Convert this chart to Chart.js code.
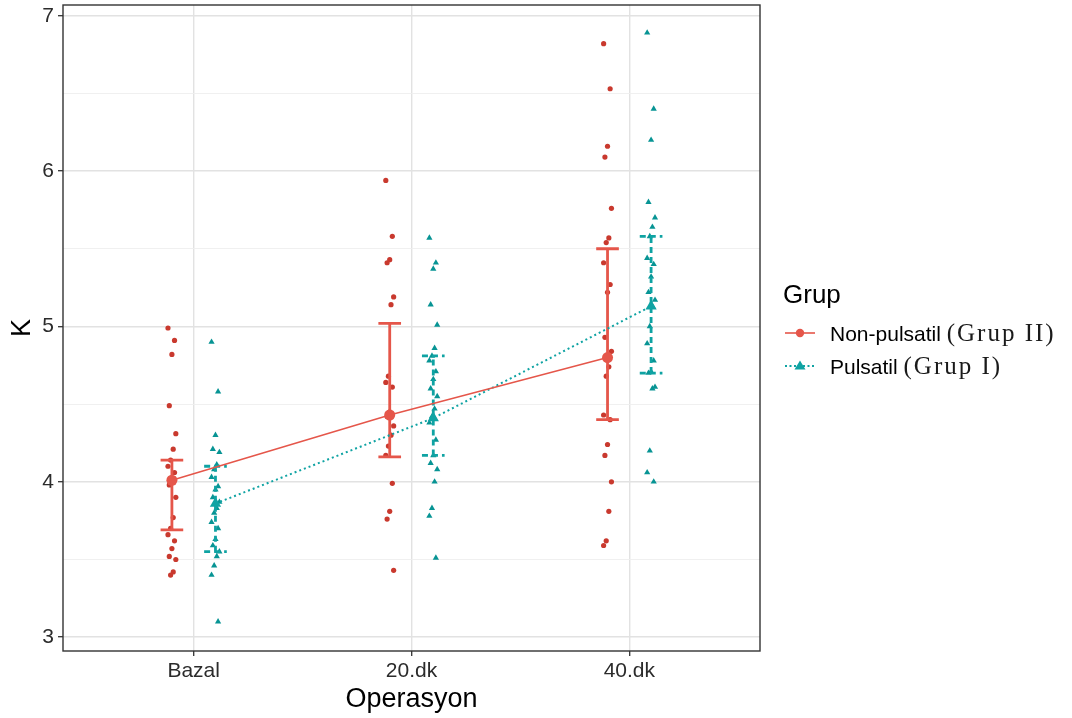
<!DOCTYPE html>
<html>
<head>
<meta charset="utf-8">
<script src="https://cdn.jsdelivr.net/npm/chart.js@4.4.1/dist/chart.umd.min.js"></script>
<style>
html,body{margin:0;padding:0;background:#fff;}
#wrap{position:relative;width:1072px;height:718px;overflow:hidden;}
#c{position:absolute;left:0;top:0;}
.lg{position:absolute;font-family:"Liberation Sans",Arial,sans-serif;color:#000;white-space:nowrap;line-height:1;}
.serif{font-family:"Liberation Serif","Times New Roman",serif;color:#1a1a1a;letter-spacing:2px;}
</style>
</head>
<body>
<div id="wrap">
<canvas id="c" width="1072" height="718"></canvas>
<div class="lg" style="left:783px;top:281px;font-size:26px;">Grup</div>
<svg class="lg" style="left:784px;top:324px;" width="32" height="18"><line x1="1" y1="9" x2="31" y2="9" stroke="#e5564a" stroke-width="1.6"/><circle cx="16" cy="9" r="4.2" fill="#e5564a"/></svg>
<div class="lg" style="left:830px;top:320px;font-size:21px;">Non-pulsatil <span class="serif" style="font-size:25px;">(Grup II)</span></div>
<svg class="lg" style="left:784px;top:357px;" width="32" height="18"><line x1="1" y1="9" x2="31" y2="9" stroke="#0fa3a3" stroke-width="1.8" stroke-dasharray="2,2.5"/><polygon points="16,3.5 21.5,12.5 10.5,12.5" fill="#0fa3a3"/></svg>
<div class="lg" style="left:830px;top:353px;font-size:21px;">Pulsatil <span class="serif" style="font-size:25px;">(Grup I)</span></div>
</div>
<script>
// ---- data ----
const categories = ['Bazal', '20.dk', '40.dk'];
const yTicks = [3, 4, 5, 6, 7];
const yMinorTicks = [3.5, 4.5, 5.5, 6.5];
const groupNames = ['Non-pulsatil (Grup II)', 'Pulsatil (Grup I)'];

// individual observations (Non-pulsatil = Grup II)
const nonPulsatilBazal = [4.99, 4.91, 4.82, 4.49, 4.31, 4.21, 4.14, 4.10, 4.06, 4.02, 3.98, 3.90, 3.77, 3.70, 3.66, 3.62, 3.57, 3.52, 3.50, 3.42, 3.40];
const nonPulsatil20 = [5.94, 5.58, 5.43, 5.41, 5.19, 5.14, 4.68, 4.64, 4.61, 4.45, 4.42, 4.36, 4.30, 4.23, 4.17, 3.99, 3.81, 3.76, 3.43];
const nonPulsatil40 = [6.82, 6.53, 6.16, 6.09, 5.76, 5.57, 5.54, 5.41, 5.27, 5.22, 4.93, 4.84, 4.74, 4.68, 4.43, 4.40, 4.24, 4.17, 4.00, 3.81, 3.62, 3.59];
// individual observations (Pulsatil = Grup I)
const pulsatilBazal = [4.90, 4.58, 4.30, 4.21, 4.19, 4.11, 4.08, 4.03, 3.97, 3.95, 3.90, 3.87, 3.83, 3.80, 3.74, 3.70, 3.63, 3.59, 3.55, 3.52, 3.46, 3.40, 3.10];
const pulsatil20 = [5.57, 5.41, 5.37, 5.14, 5.01, 4.86, 4.81, 4.78, 4.71, 4.66, 4.60, 4.55, 4.47, 4.42, 4.38, 4.27, 4.17, 4.12, 4.08, 4.00, 3.83, 3.78, 3.51];
const pulsatil40 = [6.89, 6.40, 6.20, 5.80, 5.70, 5.64, 5.58, 5.44, 5.40, 5.32, 5.22, 5.17, 5.13, 5.00, 4.89, 4.78, 4.71, 4.70, 4.61, 4.60, 4.20, 4.06, 4.00];

// summaries (centre and bar limits)
const nonPulsatilMean = [4.01, 4.43, 4.80];
const nonPulsatilLow = [3.69, 4.16, 4.40];
const nonPulsatilHigh = [4.14, 5.02, 5.50];
const pulsatilMean = [3.86, 4.41, 5.13];
const pulsatilLow = [3.55, 4.17, 4.70];
const pulsatilHigh = [4.10, 4.81, 5.58];

// ---- styling / helpers ----
const RED_LINE = '#e5564a', RED_PT = '#c9392e';
const TEAL_LINE = '#0fa3a3', TEAL_PT = '#079494';
const DODGE = 0.1, CAP = 0.052;
function jitter(i) { return (((i * 5) % 7) - 3) * 0.006; }

function rawPoints(lists, off) {
  const out = [];
  lists.forEach((vals, c) => vals.forEach((v, i) => out.push({ x: c + 1 + off + jitter(i), y: v })));
  return out;
}
function meanPoints(means, off) { return means.map((m, c) => ({ x: c + 1 + off, y: m })); }
function errorBars(low, high, off) {
  const out = [];
  low.forEach((lo, c) => {
    const x = c + 1 + off, hi = high[c];
    out.push({ x: x, y: lo }, { x: x, y: hi }, { x: x, y: null });
    out.push({ x: x - CAP, y: hi }, { x: x + CAP, y: hi }, { x: x, y: null });
    out.push({ x: x - CAP, y: lo }, { x: x + CAP, y: lo }, { x: x, y: null });
  });
  return out;
}

const tickFont = { family: '"Liberation Sans", Arial, sans-serif', size: 21 };
const titleFont = { family: '"Liberation Sans", Arial, sans-serif', size: 27 };
const isMajor = ctx => yTicks.includes(ctx.tick && ctx.tick.value);

const boxPlugin = {
  id: 'panelBox',
  afterDatasetsDraw(chart) {
    const { ctx, chartArea: a } = chart;
    ctx.save();
    ctx.strokeStyle = '#333';
    ctx.lineWidth = 1.4;
    ctx.strokeRect(a.left, a.top, a.right - a.left, a.bottom - a.top);
    ctx.restore();
  }
};

new Chart(document.getElementById('c'), {
  type: 'scatter',
  data: {
    datasets: [
      { label: groupNames[0] + ' mean', data: meanPoints(nonPulsatilMean, -DODGE), showLine: true,
        borderColor: RED_LINE, borderWidth: 1.5, backgroundColor: RED_LINE, pointRadius: 5.5, pointBorderWidth: 0, pointStyle: 'circle', order: 1 },
      { label: groupNames[1] + ' mean', data: meanPoints(pulsatilMean, DODGE), showLine: true,
        borderColor: TEAL_LINE, borderWidth: 2, borderDash: [2, 3], backgroundColor: TEAL_LINE, pointRadius: 6.5, pointBorderWidth: 0, pointStyle: 'triangle', order: 2 },
      { label: groupNames[0] + ' bar', data: errorBars(nonPulsatilLow, nonPulsatilHigh, -DODGE), showLine: true, spanGaps: false,
        borderColor: RED_LINE, borderWidth: 2.8, pointRadius: 0, order: 3 },
      { label: groupNames[1] + ' bar', data: errorBars(pulsatilLow, pulsatilHigh, DODGE), showLine: true, spanGaps: false,
        borderColor: TEAL_LINE, borderWidth: 2.8, borderDash: [6, 4], pointRadius: 0, order: 4 },
      { label: groupNames[0], data: rawPoints([nonPulsatilBazal, nonPulsatil20, nonPulsatil40], -DODGE),
        backgroundColor: RED_PT, pointRadius: 2.6, pointBorderWidth: 0, pointStyle: 'circle', order: 5 },
      { label: groupNames[1], data: rawPoints([pulsatilBazal, pulsatil20, pulsatil40], DODGE),
        backgroundColor: TEAL_PT, pointRadius: 3.6, pointBorderWidth: 0, pointStyle: 'triangle', order: 6 }
    ]
  },
  options: {
    responsive: false,
    animation: false,
    layout: { autoPadding: false, padding: { left: 0, right: 312, top: 5, bottom: 0 } },
    plugins: { legend: { display: false }, tooltip: { enabled: false } },
    scales: {
      x: {
        type: 'linear', min: 0.4, max: 3.6,
        afterBuildTicks: s => { s.ticks = categories.map((c, i) => ({ value: i + 1 })); },
        afterFit: s => { s.height = 67; s.paddingLeft = 0; s.paddingRight = 0; },
        ticks: { callback: v => categories[v - 1], font: tickFont, color: '#2b2b2b', padding: 3, maxRotation: 0, autoSkip: false },
        grid: { color: '#e2e2e2', lineWidth: 1.4, tickLength: 5, tickColor: '#333', tickWidth: 1.3 },
        border: { display: false },
        title: { display: true, text: 'Operasyon', font: titleFont, color: '#000', padding: { top: 0, bottom: 2 } }
      },
      y: {
        type: 'linear', min: 2.911, max: 7.069,
        afterBuildTicks: s => { s.ticks = yTicks.concat(yMinorTicks).sort((a, b) => a - b).map(v => ({ value: v })); },
        afterFit: s => { s.width = 63; s.paddingTop = 0; s.paddingBottom = 0; },
        ticks: { callback: v => yTicks.includes(v) ? String(v) : '', font: tickFont, color: '#2b2b2b', padding: 4 },
        grid: {
          color: ctx => isMajor(ctx) ? '#e2e2e2' : '#eeeeee',
          lineWidth: ctx => isMajor(ctx) ? 1.4 : 0.9,
          tickColor: ctx => isMajor(ctx) ? '#333' : 'rgba(0,0,0,0)',
          tickLength: 5, tickWidth: 1.3
        },
        border: { display: false },
        title: { display: true, text: 'K', font: titleFont, color: '#000', padding: { top: 6, bottom: 0 } }
      }
    }
  },
  plugins: [boxPlugin]
});
</script>
</body>
</html>
